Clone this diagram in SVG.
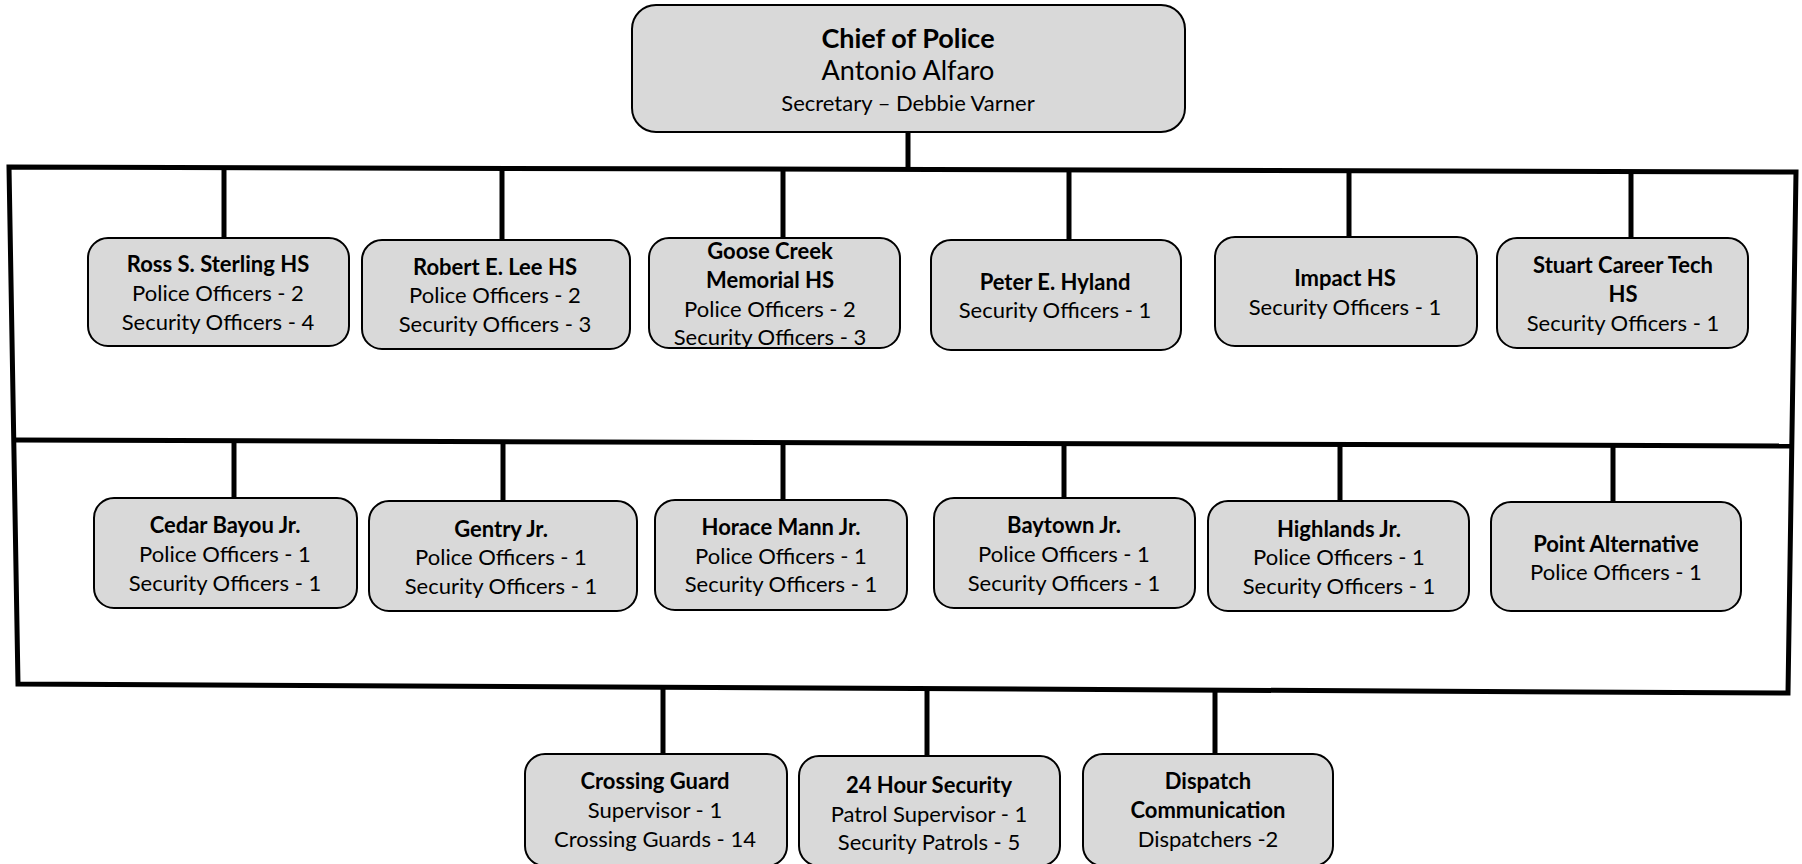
<svg xmlns="http://www.w3.org/2000/svg" width="1802" height="864" viewBox="0 0 1802 864">
<style>
.box{fill:#d9d9d9;stroke:#000;stroke-width:2}
.ln{stroke:#000;stroke-width:5;fill:none}
text{font-family:Lato,"Liberation Sans",sans-serif;font-size:22px;fill:#000;text-anchor:middle}
.b{font-weight:bold}
.big{font-size:27px}
.mid{font-size:21px}
</style>
<rect width="1802" height="864" fill="#fff"/>
<g id="connectors">
<path class="ln" d="M9,167 L1796,172 L1788,693 L18,684 Z"/>
<path class="ln" d="M16,440 L1793,446"/>
<path class="ln" d="M908,132 V170"/>
<path class="ln" d="M224,168 V238"/>
<path class="ln" d="M502,168 V240"/>
<path class="ln" d="M783,169 V238"/>
<path class="ln" d="M1069,170 V240"/>
<path class="ln" d="M1349,170 V237"/>
<path class="ln" d="M1631,171 V238"/>
<path class="ln" d="M234,441 V498"/>
<path class="ln" d="M503,442 V501"/>
<path class="ln" d="M783,443 V500"/>
<path class="ln" d="M1064,444 V498"/>
<path class="ln" d="M1340,445 V501"/>
<path class="ln" d="M1613,445 V502"/>
<path class="ln" d="M663,687 V754"/>
<path class="ln" d="M927,688 V756"/>
<path class="ln" d="M1215,689 V754"/>
</g>
<g id="chief">
<rect class="box" x="632" y="5" width="553" height="127" rx="24"/>
<text class="b big" x="908" y="48">Chief of Police</text>
<text class="big" x="908" y="80" style="font-weight:normal">Antonio Alfaro</text>
<text x="908" y="111">Secretary – Debbie Varner</text>
</g>
<g id="ross">
<rect class="box" x="88" y="238" width="261" height="108" rx="20"/>
<text class="b" x="218" y="272">Ross S. Sterling HS</text>
<text x="218" y="301">Police Officers - 2</text>
<text x="218" y="330">Security Officers - 4</text>
</g>
<g id="lee">
<rect class="box" x="362" y="240" width="268" height="109" rx="20"/>
<text class="b" x="495" y="275">Robert E. Lee HS</text>
<text x="495" y="303">Police Officers - 2</text>
<text x="495" y="332">Security Officers - 3</text>
</g>
<g id="goosecreek">
<rect class="box" x="649" y="238" width="251" height="110" rx="20"/>
<text class="b" x="770" y="259">Goose Creek</text>
<text class="b" x="770" y="288">Memorial HS</text>
<text x="770" y="317">Police Officers - 2</text>
<text x="770" y="345">Security Officers - 3</text>
</g>
<g id="hyland">
<rect class="box" x="931" y="240" width="250" height="110" rx="20"/>
<text class="b" x="1055" y="290">Peter E. Hyland</text>
<text x="1055" y="318">Security Officers - 1</text>
</g>
<g id="impact">
<rect class="box" x="1215" y="237" width="262" height="109" rx="20"/>
<text class="b" x="1345" y="286">Impact HS</text>
<text x="1345" y="315">Security Officers - 1</text>
</g>
<g id="stuart">
<rect class="box" x="1497" y="238" width="251" height="110" rx="20"/>
<text class="b" x="1623" y="273">Stuart Career Tech</text>
<text class="b" x="1623" y="302">HS</text>
<text x="1623" y="331">Security Officers - 1</text>
</g>
<g id="cedarbayou">
<rect class="box" x="94" y="498" width="263" height="110" rx="20"/>
<text class="b" x="225" y="533">Cedar Bayou Jr.</text>
<text x="225" y="562">Police Officers - 1</text>
<text x="225" y="591">Security Officers - 1</text>
</g>
<g id="gentry">
<rect class="box" x="369" y="501" width="268" height="110" rx="20"/>
<text class="b" x="501" y="537">Gentry Jr.</text>
<text x="501" y="565">Police Officers - 1</text>
<text x="501" y="594">Security Officers - 1</text>
</g>
<g id="horacemann">
<rect class="box" x="655" y="500" width="252" height="110" rx="20"/>
<text class="b" x="781" y="535">Horace Mann Jr.</text>
<text x="781" y="564">Police Officers - 1</text>
<text x="781" y="592">Security Officers - 1</text>
</g>
<g id="baytown">
<rect class="box" x="934" y="498" width="261" height="110" rx="20"/>
<text class="b" x="1064" y="533">Baytown Jr.</text>
<text x="1064" y="562">Police Officers - 1</text>
<text x="1064" y="591">Security Officers - 1</text>
</g>
<g id="highlands">
<rect class="box" x="1208" y="501" width="261" height="110" rx="20"/>
<text class="b" x="1339" y="537">Highlands Jr.</text>
<text x="1339" y="565">Police Officers - 1</text>
<text x="1339" y="594">Security Officers - 1</text>
</g>
<g id="pointalternative">
<rect class="box" x="1491" y="502" width="250" height="109" rx="20"/>
<text class="b" x="1616" y="552">Point Alternative</text>
<text x="1616" y="580">Police Officers - 1</text>
</g>
<g id="crossingguard">
<rect class="box" x="525" y="754" width="262" height="112" rx="20"/>
<text class="b" x="655" y="789">Crossing Guard</text>
<text x="655" y="818">Supervisor - 1</text>
<text x="655" y="847">Crossing Guards - 14</text>
</g>
<g id="security24">
<rect class="box" x="799" y="756" width="261" height="110" rx="20"/>
<text class="b" x="929" y="793">24 Hour Security</text>
<text x="929" y="822">Patrol Supervisor - 1</text>
<text x="929" y="850">Security Patrols - 5</text>
</g>
<g id="dispatch">
<rect class="box" x="1083" y="754" width="250" height="112" rx="20"/>
<text class="b" x="1208" y="789">Dispatch</text>
<text class="b" x="1208" y="818">Communication</text>
<text x="1208" y="847">Dispatchers -2</text>
</g>
</svg>
